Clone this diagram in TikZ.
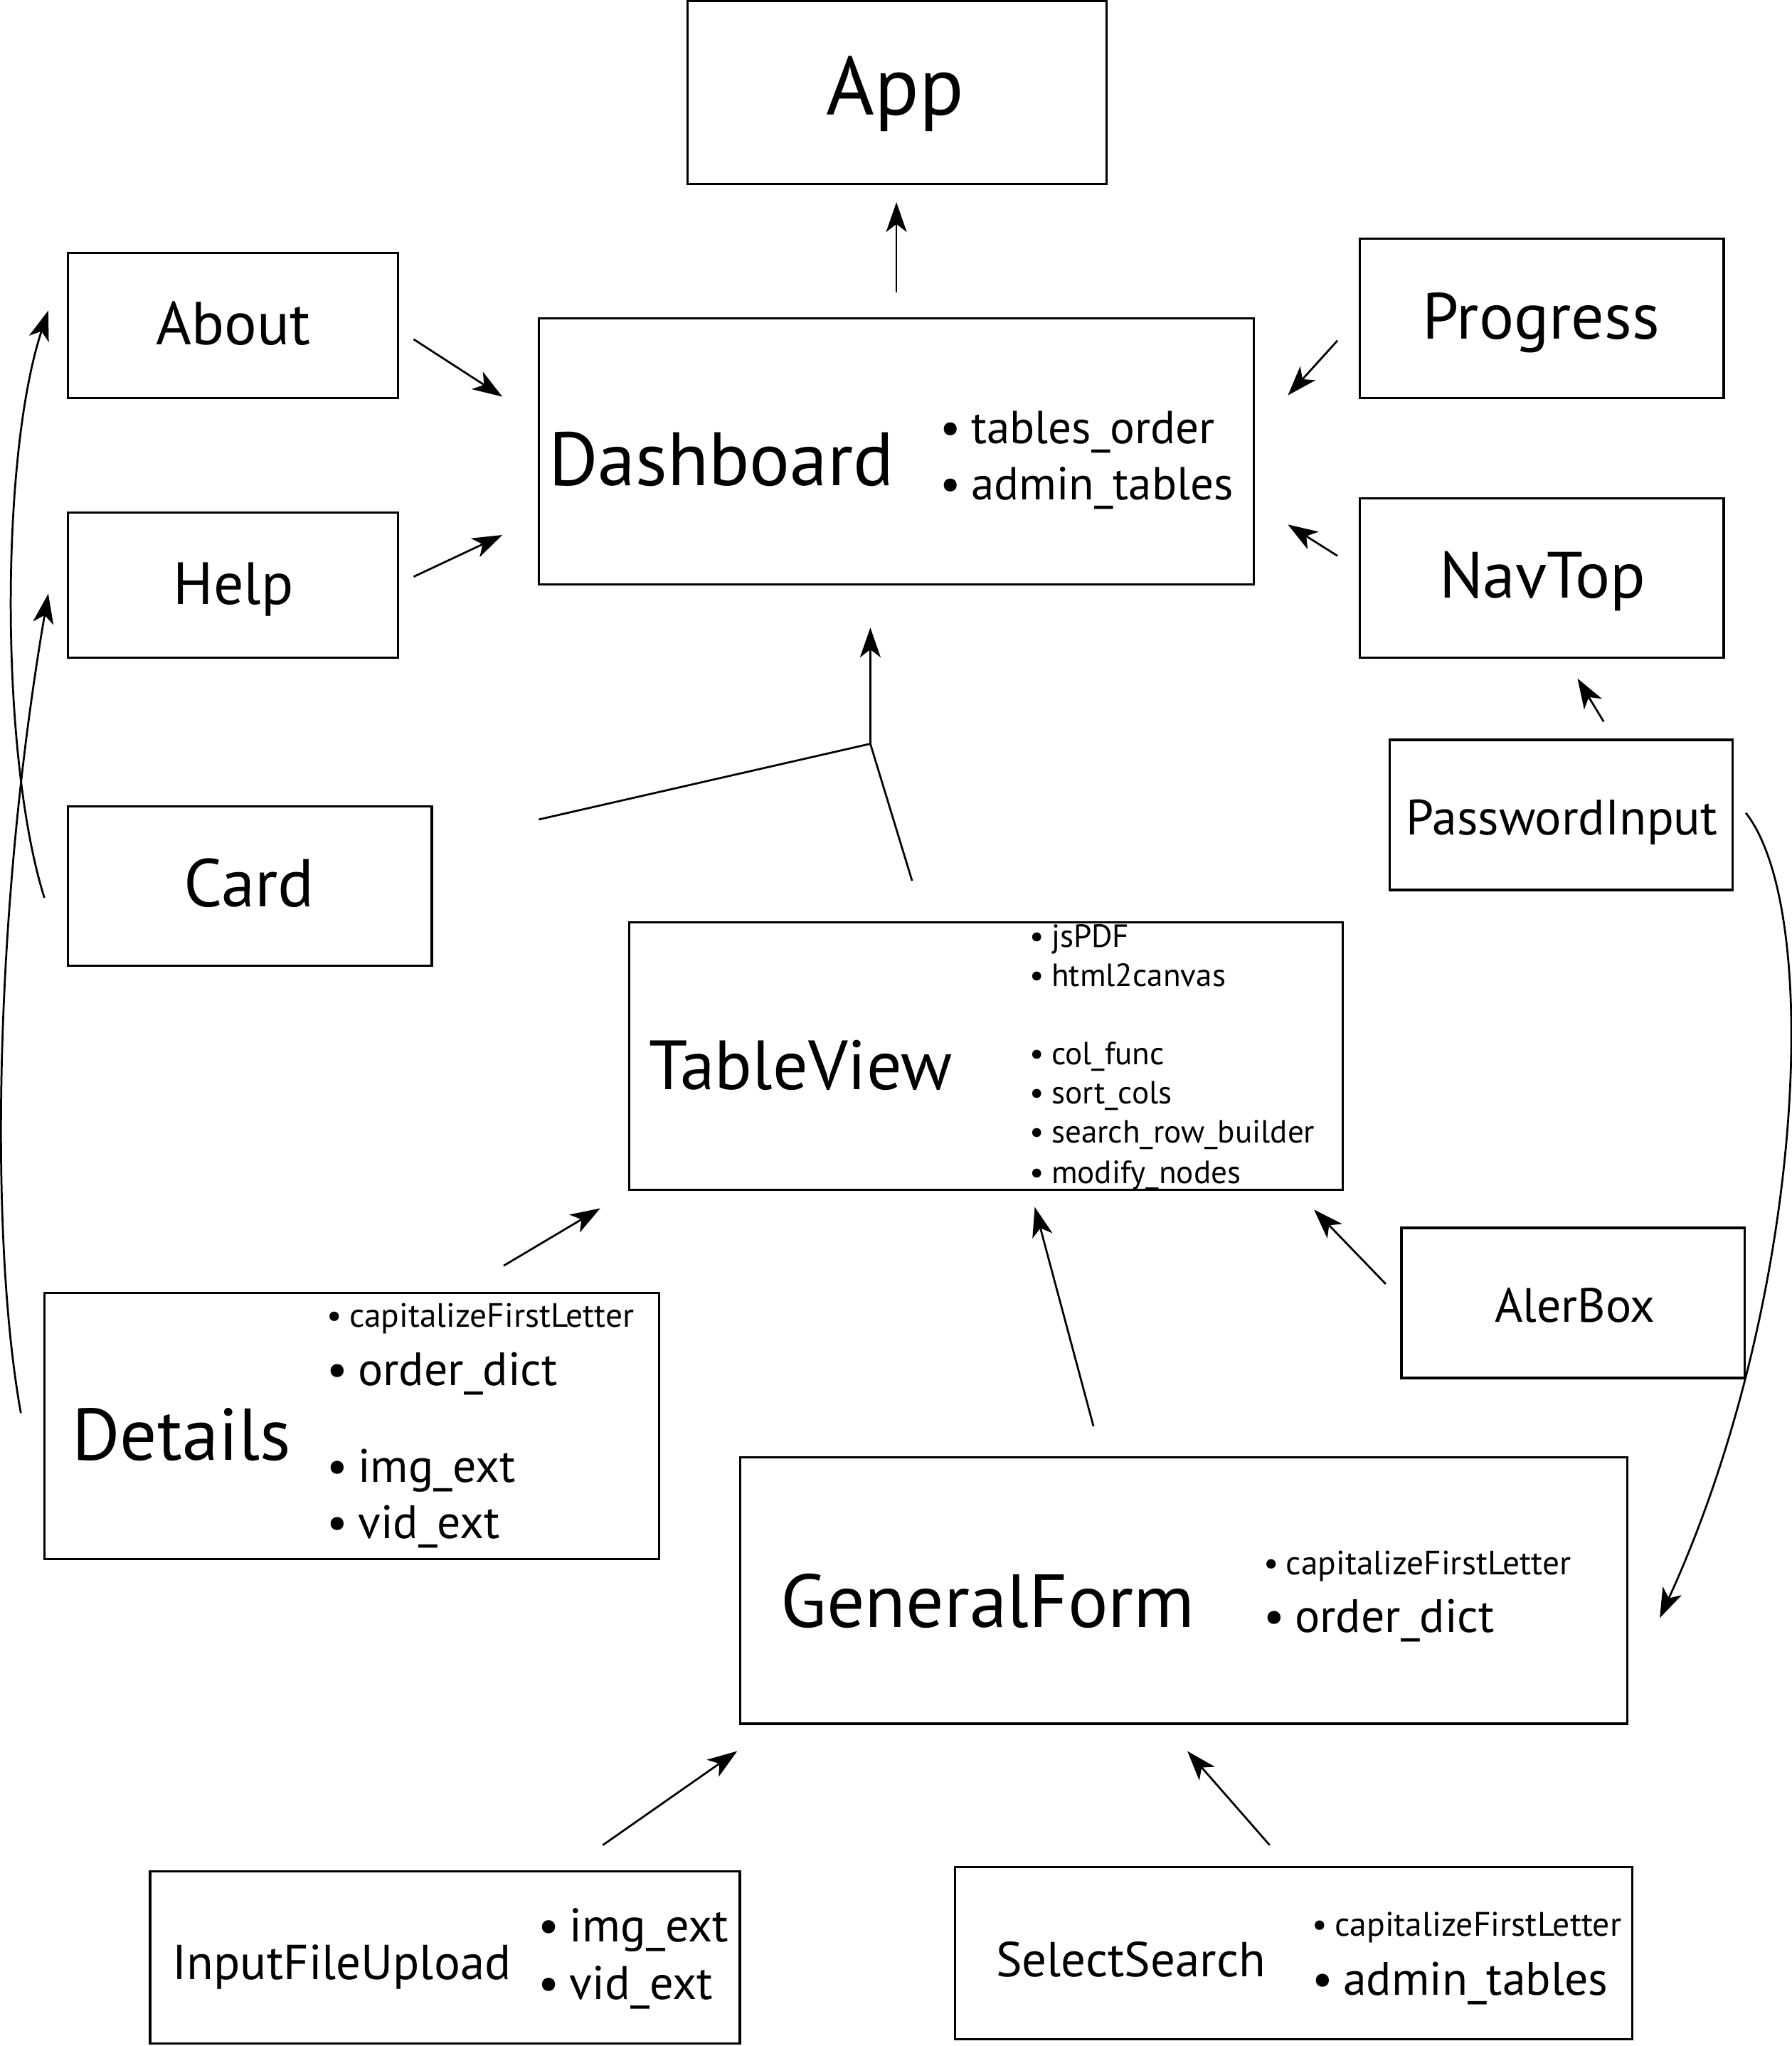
\documentclass[tikz,border=0pt]{standalone}
\usepackage{fontspec}
\setmainfont{PT Sans}
\usetikzlibrary{arrows.meta}

\newcommand\bul{•\hspace{0.22em}}

\tikzset{
	box/.style={draw, line width=1pt, inner sep=0pt},
	title/.style={font=\fontsize{#1pt}{#1pt}\selectfont, inner sep=0pt, anchor=base},
	ltitle/.style={title=#1, anchor=base west},
	item/.style={font=\fontsize{#1pt}{#1pt}\selectfont, inner sep=0pt, anchor=base west},
	conn/.style={-{Stealth[length=13pt, width=9pt, inset=3.5pt]}, line width=0.85pt},
}

\begin{document}
\begin{tikzpicture}[x=0.02cm, y=-0.02cm]

		\useasboundingbox (0,0) rectangle (1373,1568);

		% boxes
		\node[box, minimum width=6.42cm, minimum height=2.80cm] (app) at (687.5,71) {};
		\node[box, minimum width=5.06cm, minimum height=2.22cm] (about) at (178.5,249.5) {};
		\node[box, minimum width=5.06cm, minimum height=2.22cm] (help) at (178.5,448.5) {};
		\node[box, minimum width=5.58cm, minimum height=2.44cm] (card) at (191.5,679) {};
		\node[box, minimum width=10.96cm, minimum height=4.08cm] (dash) at (687,346) {};
		\node[box, minimum width=5.58cm, minimum height=2.44cm] (progress) at (1181.5,244) {};
		\node[box, minimum width=5.58cm, minimum height=2.44cm] (navtop) at (1181.5,443) {};
		\node[box, minimum width=5.26cm, minimum height=2.30cm] (pwd) at (1196.5,624.5) {};
		\node[box, minimum width=10.94cm, minimum height=4.10cm] (table) at (755.5,809.5) {};
		\node[box, minimum width=5.26cm, minimum height=2.30cm] (alert) at (1205.5,998.5) {};
		\node[box, minimum width=9.42cm, minimum height=4.08cm] (details) at (269.5,1093) {};
		\node[box, minimum width=13.60cm, minimum height=4.08cm] (form) at (907,1219) {};
		\node[box, minimum width=9.04cm, minimum height=2.64cm] (upload) at (341,1500) {};
		\node[box, minimum width=10.38cm, minimum height=2.64cm] (search) at (991.5,1497) {};

		% titles
		\node[title=36] (app-t) at (686,88) {App};
		\node[title=26.5] (about-t) at (179,264) {About};
		\node[title=26] (help-t) at (179,463) {Help};
		\node[title=29.5] (card-t) at (191,695) {Card};
		\node[ltitle=33] (dash-t) at (420,372) {Dashboard};
		\node[title=28.5] (progress-t) at (1181,260) {Progress};
		\node[title=28.5] (navtop-t) at (1182,458) {NavTop};
		\node[title=21.7] (pwd-t) at (1197,640) {PasswordInput};
		\node[ltitle=30.4] (table-t) at (497,835) {TableView};
		\node[title=21] (alert-t) at (1207,1013) {AlerBox};
		\node[ltitle=32] (details-t) at (55,1119) {Details};
		\node[ltitle=32.8] (form-t) at (598,1247) {GeneralForm};
		\node[ltitle=21.4] (upload-t) at (132,1517) {InputFileUpload};
		\node[ltitle=21.4] (search-t) at (763,1515) {SelectSearch};

		% lists
		\node[item=20.2] (dash-1) at (720,340) {\bul tables\_order};
		\node[item=20.2] (dash-2) at (720,383) {\bul admin\_tables};

		\node[item=14] (table-1) at (789,726) {\bul jsPDF};
		\node[item=14] (table-2) at (789,756) {\bul html2canvas};
		\node[item=14] (table-3) at (789,816) {\bul col\_func};
		\node[item=14] (table-4) at (789,846) {\bul sort\_cols};
		\node[item=14] (table-5) at (789,876) {\bul search\_row\_builder};
		\node[item=14] (table-6) at (789,907) {\bul modify\_nodes};

		\node[item=14.7] (details-1) at (250,1017) {\bul capitalizeFirstLetter};
		\node[item=20.4] (details-2) at (250,1062) {\bul order\_dict};
		\node[item=20.4] (details-3) at (250,1136) {\bul img\_ext};
		\node[item=20.4] (details-4) at (250,1179) {\bul vid\_ext};

		\node[item=14.7] (form-1) at (968,1207) {\bul capitalizeFirstLetter};
		\node[item=20.4] (form-2) at (968,1251) {\bul order\_dict};

		\node[item=20.6] (upload-1) at (412,1488) {\bul img\_ext};
		\node[item=20.6] (upload-2) at (412,1532) {\bul vid\_ext};

		\node[item=14.8] (search-1) at (1005,1484) {\bul capitalizeFirstLetter};
		\node[item=20.4] (search-2) at (1005,1529) {\bul admin\_tables};

		% connector ends
		\coordinate (dash-up) at (687,224);   \coordinate (app-in) at (687,155);
		\coordinate (about-out) at (317,260); \coordinate (dash-in1) at (385,304);
		\coordinate (help-out) at (317,442);  \coordinate (dash-in2) at (385,410);
		\coordinate (prog-out) at (1025,261); \coordinate (dash-in3) at (987,303);
		\coordinate (nav-out) at (1025,426);  \coordinate (dash-in4) at (987,402);
		\coordinate (pwd-up) at (1229,553);   \coordinate (nav-in) at (1209,520);
		\coordinate (card-out) at (413,628);  \coordinate (table-up) at (699,675);
		\coordinate (join) at (667,570);      \coordinate (dash-in5) at (667,481);
		\coordinate (card-up) at (34,688);    \coordinate (about-in) at (37,238);
		\coordinate (details-up) at (16,1083);\coordinate (help-in) at (37,455);
		\coordinate (details-out) at (386,970);\coordinate (table-in1) at (460,926);
		\coordinate (form-up) at (838,1093);  \coordinate (table-in2) at (793,925);
		\coordinate (alert-out) at (1062,984);\coordinate (table-in3) at (1007,927);
		\coordinate (pwd-out) at (1338,623);  \coordinate (form-in1) at (1272,1240);
		\coordinate (upload-up) at (462,1414);\coordinate (form-in2) at (565,1342);
		\coordinate (search-up) at (973,1414);\coordinate (form-in3) at (910,1342);

		% connectors
		\draw[conn] (dash-up) -- (app-in);
		\draw[conn] (about-out) -- (dash-in1);
		\draw[conn] (help-out) -- (dash-in2);
		\draw[conn] (prog-out) -- (dash-in3);
		\draw[conn] (nav-out) -- (dash-in4);
		\draw[conn] (pwd-up) -- (nav-in);
		\draw[line width=0.85pt] (card-out) -- (join) -- (table-up);
		\draw[conn] (join) -- (dash-in5);
		\draw[conn] (card-up) .. controls (0,580) and (0,350) .. (about-in);
		\draw[conn] (details-up) .. controls (-8,950) and (-5,700) .. (help-in);
		\draw[conn] (details-out) -- (table-in1);
		\draw[conn] (form-up) -- (table-in2);
		\draw[conn] (alert-out) -- (table-in3);
		\draw[conn] (pwd-out) .. controls (1398,700) and (1382,1000) .. (form-in1);
		\draw[conn] (upload-up) -- (form-in2);
		\draw[conn] (search-up) -- (form-in3);

	\end{tikzpicture}
\end{document}
